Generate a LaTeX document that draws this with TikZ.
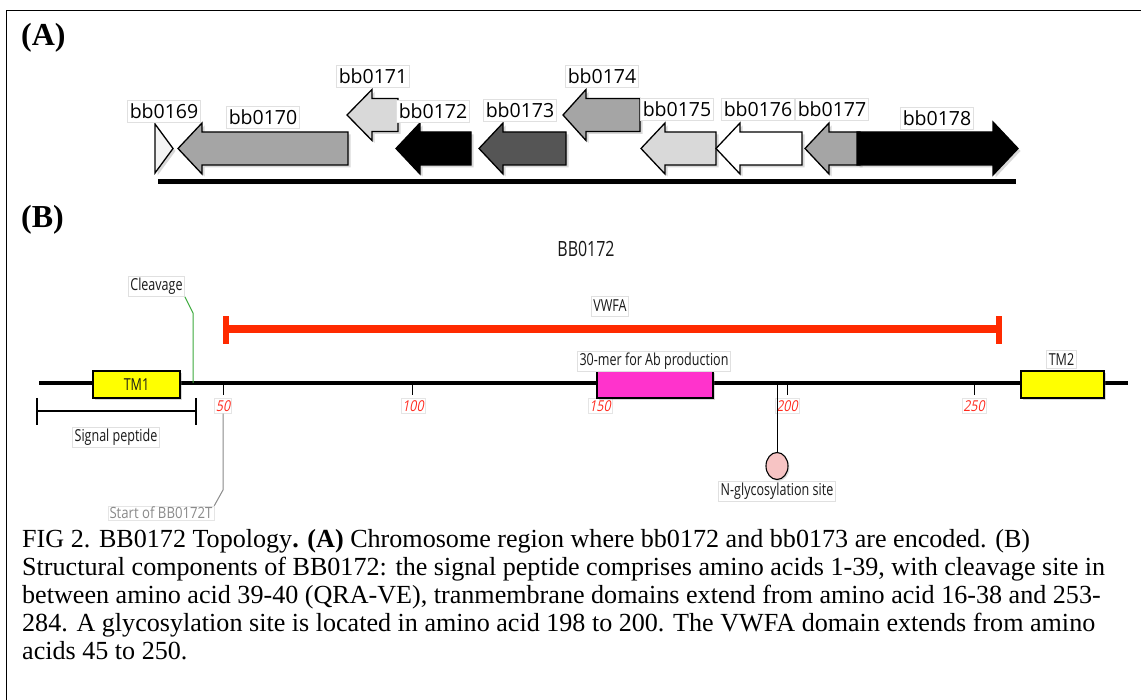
\documentclass[tikz,border=0pt]{standalone}
\usepackage{fontspec}
\setmainfont{Liberation Serif}
\newfontfamily\fa{Open Sans}
\newfontfamily\fb[FakeStretch=0.76]{Open Sans}
\newfontfamily\fbs[FakeStretch=0.85]{Open Sans}
\newfontfamily\fbi[FakeStretch=0.82,FakeSlant=0.2]{Open Sans}
\usetikzlibrary{shadows,shapes.geometric}
\definecolor{gmid}{HTML}{A5A5A5}
\definecolor{glight}{HTML}{D9D9D9}
\definecolor{gdark}{HTML}{555555}
\definecolor{gwhite}{HTML}{F4F4F4}
\definecolor{vred}{HTML}{FF2A00}
\definecolor{numred}{HTML}{FF2A1E}
\definecolor{tmyellow}{HTML}{FFFF00}
\definecolor{merpink}{HTML}{FF33CC}
\definecolor{glypink}{HTML}{F7C4C4}
\definecolor{clgreen}{HTML}{3DAA3D}
\definecolor{stgray}{HTML}{8A8A8A}
\newcommand\geneL[5]{%
  \draw[genearrow, fill=#1] (#4,#5-16.5) -- (#3,#5-16.5) -- (#3,#5-25.5) -- (#2,#5)
    -- (#3,#5+25.5) -- (#3,#5+16.5) -- (#4,#5+16.5) -- cycle;}
\begin{document}
\begin{tikzpicture}[x=1pt,y=-1pt,
  genearrow/.style={draw=black, line width=1.3pt, line join=miter,
    drop shadow={shadow xshift=2.5pt, shadow yshift=-2.5pt, opacity=0.3}},
  glbl/.style={font=\fa\fontsize{19.5}{22}\selectfont, fill=white, draw=black!12,
    line width=0.6pt, inner xsep=2.5pt, inner ysep=0pt, minimum height=22pt},
  blbl/.style={font=\fb\fontsize{16.5}{18}\selectfont, fill=white, draw=black!12,
    line width=0.6pt, inner xsep=2pt, inner ysep=0pt, minimum height=20pt, text=black!90},
  numlbl/.style={font=\fbi\fontsize{15}{16}\selectfont, text=numred, fill=white,
    draw=black!10, line width=0.5pt, inner xsep=1.5pt, inner ysep=0pt, minimum height=15pt},
  domainbox/.style={draw=black, line width=1.3pt, minimum height=27pt, inner sep=0pt,
    drop shadow={shadow xshift=2pt, shadow yshift=-2pt, opacity=0.3}},
  tickline/.style={line width=1pt},
  capline/.style={anchor=base west, inner sep=0pt, font=\fontsize{26.1}{28}\selectfont},
  panellbl/.style={anchor=west, inner sep=0pt, font=\bfseries\fontsize{32}{34}\selectfont}]
\useasboundingbox (0,0) rectangle (1141,700);
\fill[white] (0,0) rectangle (1141,700);
% frame
\draw[line width=1.2pt] (6.5,700) -- (6.5,10.5) -- (1141,10.5);

% ---------------- Panel A ----------------
\node[panellbl] (pA) at (21,38) {(A)};
\draw[line width=5pt, drop shadow={shadow xshift=2pt, shadow yshift=-2.5pt, opacity=0.3}]
  (158,182) -- (1016,182);
\draw[genearrow, fill=gwhite] (155,124) -- (173,148.5) -- (155,173) -- cycle;
\geneL{gmid}{178}{202}{348}{148.5}
\geneL{glight}{347}{372}{398}{115}
\geneL{black}{396}{420}{471}{148.5}
\geneL{gdark}{479}{503}{566}{148.5}
\geneL{gmid}{563}{586}{640}{115}
\geneL{glight}{641}{665}{716}{148.5}
\geneL{white}{716}{740}{802}{148.5}
\geneL{gmid}{805}{829}{860}{148.5}
\draw[genearrow, fill=black] (857,132) -- (993,132) -- (993,122) -- (1018,148.5)
  -- (993,175) -- (993,165) -- (857,165) -- cycle;

\node[glbl] (l169) at (164,111) {bb0169};
\node[glbl] (l170) at (263,117.5) {bb0170};
\node[glbl] (l171) at (373,76) {bb0171};
\node[glbl] (l172) at (433,111) {bb0172};
\node[glbl] (l173) at (520,110) {bb0173};
\node[glbl] (l174) at (602,76) {bb0174};
\node[glbl] (l175) at (677,109) {bb0175};
\node[glbl] (l176) at (758,109) {bb0176};
\node[glbl] (l177) at (832,109) {bb0177};
\node[glbl] (l178) at (937,118) {bb0178};

% ---------------- Panel B ----------------
\node[panellbl] (pB) at (21,220) {(B)};
\node[font=\fb\fontsize{21}{23}\selectfont, text=black!90] (title) at (586,249) {BB0172};

% VWFA bar
\draw[vred, line width=8pt, drop shadow={shadow xshift=2pt, shadow yshift=-2pt, opacity=0.25}]
  (226,329) -- (999,329);
\fill[vred] (223,316) rectangle (228.5,344);
\fill[vred] (996,316) rectangle (1002,344);
\node[blbl] (vwfa) at (610,306) {VWFA};

% main line
\draw[line width=3.5pt] (39,383) -- (1128,383);

% ticks
\draw[tickline] (223,383) -- (223,395);
\draw[tickline] (412,383) -- (412,395);
\draw[tickline] (598,383) -- (598,395);
\draw[tickline] (787,383) -- (787,395);
\draw[tickline] (974,383) -- (974,395);
\node[numlbl] (n50) at (223,406) {50};
\node[numlbl] (n100) at (413,406) {100};
\node[numlbl] (n150) at (600,406) {150};
\node[numlbl] (n200) at (787,406) {200};
\node[numlbl] (n250) at (974,406) {250};

% domains
\node[domainbox, fill=tmyellow, minimum width=87pt, font=\fb\fontsize{16.5}{18}\selectfont, text=black!90]
  (tm1) at (136.5,384.5) {TM1};
\node[domainbox, fill=merpink, minimum width=116pt] (mer) at (655,384.5) {};
\node[domainbox, fill=tmyellow, minimum width=83pt] (tm2) at (1062.5,384.5) {};
\node[blbl] (merl) at (654,361.5) {30-mer for Ab production};
\node[blbl, minimum height=18pt] (tm2l) at (1061.5,359.5) {TM2};

% cleavage
\node[blbl] (cleav) at (156.5,286.5) {Cleavage};
\coordinate (clpt) at (193,383);
\draw[clgreen, line width=1pt] (clpt) -- (193,313) -- (cleav.south east);

% signal peptide bracket
\draw[line width=1.1pt] (37,398) -- (37,425);
\draw[line width=1.1pt] (196,398) -- (196,425);
\draw[line width=1.1pt] (37,411) -- (196,411);
\node[blbl] (sig) at (116,437) {Signal peptide};

% start of BB0172T
\node[font=\fbs\fontsize{15.5}{17}\selectfont, text=stgray, fill=white, draw=black!10,
  line width=0.5pt, inner xsep=1.5pt, inner ysep=0pt, minimum height=14pt] (start) at (161,513) {Start of BB0172T};
\draw[stgray, line width=1pt] (n50.south) -- (223,490) -- (start.north east);

% glycosylation
\node[ellipse, draw=black, line width=1.1pt, fill=glypink, minimum width=22pt,
  minimum height=27pt, inner sep=0pt,
  drop shadow={shadow xshift=1.5pt, shadow yshift=-1.5pt, opacity=0.25}] (gly) at (777,466) {};
\coordinate (glypt) at (777,383);
\draw[line width=1pt] (glypt) -- (gly.north);
\node[blbl] (glyl) at (777,491) {N-glycosylation site};

% ---------------- Caption ----------------
\node[capline] (c1) at (22,547) {FIG 2. BB0172 Topology\textbf{. (A)} Chromosome region where bb0172 and bb0173 are encoded. (B)};
\node[capline] (c2) at (22,575) {Structural components of BB0172: the signal peptide comprises amino acids 1-39, with cleavage site in};
\node[capline] (c3) at (22,603) {between amino acid 39-40 (QRA-VE), tranmembrane domains extend from amino acid 16-38 and 253-};
\node[capline] (c4) at (22,631) {284. A glycosylation site is located in amino acid 198 to 200. The VWFA domain extends from amino};
\node[capline] (c5) at (22,659) {acids 45 to 250.};
\end{tikzpicture}
\end{document}
